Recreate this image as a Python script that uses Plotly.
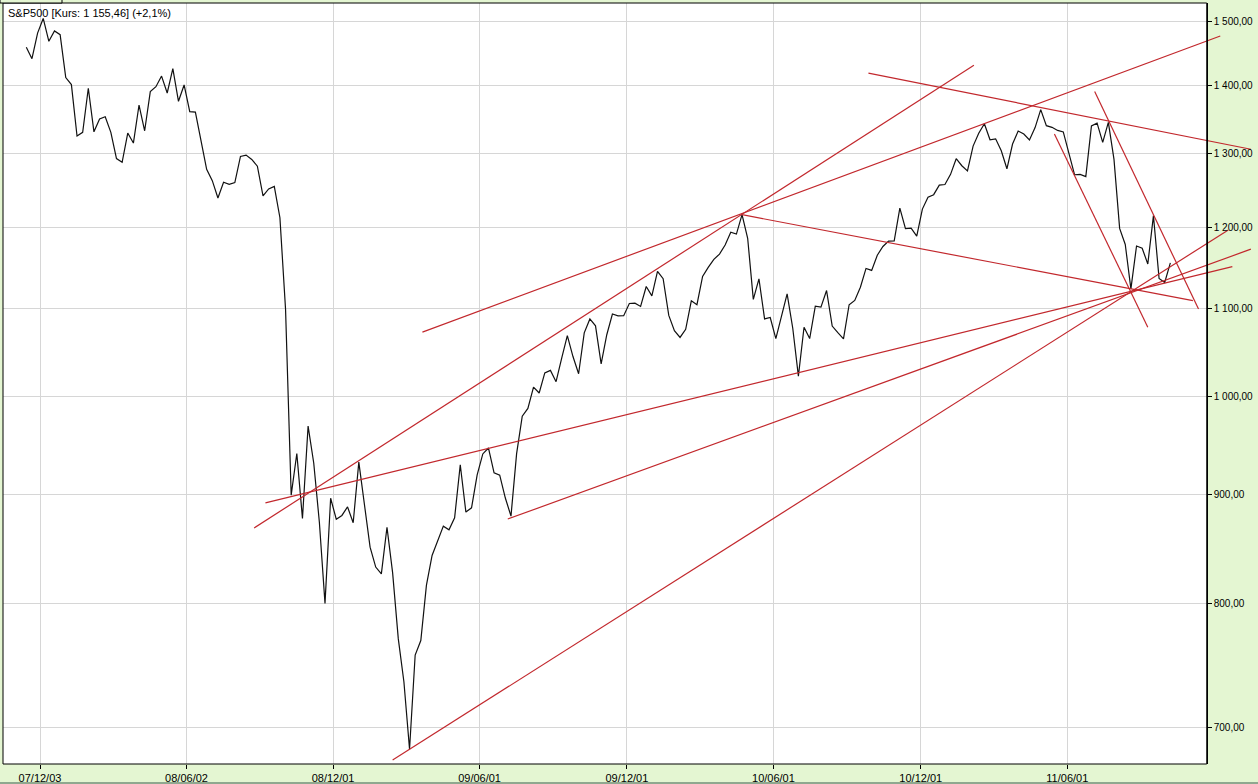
import numpy as np
import pandas as pd
import plotly.graph_objects as go

# S&P500 weekly closes, 2007-11-16 .. 2011-10-07
close = [
    1458.7, 1440.7, 1481.1, 1504.7, 1468.0, 1484.5, 1478.5,
    1411.6, 1401.0, 1325.2, 1330.6, 1395.4, 1331.3, 1350.0, 1353.1, 1330.6,
    1293.4, 1288.1, 1329.5, 1315.2, 1370.4, 1332.8, 1390.3, 1397.8, 1413.9,
    1388.3, 1425.4, 1375.9, 1400.4, 1360.7, 1360.0, 1317.9, 1278.4, 1262.9,
    1239.5, 1260.7, 1257.8, 1260.3, 1296.3, 1298.2, 1292.2, 1282.8, 1242.3,
    1251.7, 1255.1, 1213.3, 1099.2, 899.2, 940.6, 876.8, 968.8, 931.0,
    873.3, 800.0, 896.2, 876.1, 879.7, 887.9, 872.8,
    931.8, 890.4, 850.1, 832.0, 825.9, 868.6, 826.8, 770.1, 735.1,
    683.4, 756.6, 768.5, 815.9, 842.5, 856.6, 869.6, 866.2, 877.5,
    929.2, 882.9, 887.0, 919.1, 940.1, 946.2, 921.2, 918.9, 896.4,
    879.1, 940.4, 979.3, 987.5, 1010.5, 1004.1, 1026.1, 1028.9, 1016.4,
    1042.7, 1068.3, 1044.4, 1025.2, 1071.5, 1087.7, 1079.6, 1036.2, 1069.3,
    1093.5, 1091.4, 1091.5, 1106.0, 1106.4, 1102.5, 1126.5, 1115.1,
    1145.0, 1136.0, 1091.8, 1073.9, 1066.2, 1075.5, 1109.2, 1104.5, 1138.7,
    1150.0, 1159.9, 1166.6, 1178.1, 1194.4, 1192.1, 1217.3, 1186.7, 1110.9,
    1135.7, 1087.7, 1089.4, 1064.9, 1091.6, 1117.5, 1076.8, 1022.6, 1078.0,
    1064.9, 1102.7, 1101.6, 1121.6, 1079.3, 1071.7, 1064.6, 1104.5, 1109.6,
    1125.6, 1148.7, 1146.2, 1165.2, 1176.2, 1183.1, 1183.3, 1225.9, 1199.2,
    1199.7, 1189.4, 1224.7, 1240.4, 1243.9, 1256.8, 1257.6,
    1271.5, 1293.2, 1283.4, 1276.3, 1310.9, 1329.2, 1343.0, 1319.9, 1321.2,
    1304.3, 1279.2, 1313.8, 1332.4, 1328.2, 1319.7, 1337.4, 1363.6, 1340.2,
    1337.8, 1333.3, 1331.1, 1300.2, 1271.0, 1271.5, 1268.5, 1339.7, 1343.8,
    1316.1, 1345.0, 1292.3, 1199.4, 1178.8, 1123.5, 1176.8, 1174.0, 1154.2,
    1216.0, 1136.4, 1131.4, 1155.5,
]
dates = pd.date_range(end="2011-10-07", periods=len(close), freq="W-FRI")

# trend lines (start / end points)
trend_x0 = ["2008-08-25", "2009-03-22", "2010-09-27", "2010-04-23", "2008-09-08",
            "2009-07-06", "2009-02-13", "2011-05-16", "2011-07-05"]
trend_y0 = [867.9, 1072.3, 1418.3, 1217.3, 891.7, 876.3, 675.5, 1328.3, 1390.4]
trend_x1 = ["2011-02-05", "2011-12-08", "2012-01-15", "2011-11-04", "2011-12-23",
            "2012-01-15", "2011-12-18", "2011-09-09", "2011-11-11"]
trend_y1 = [1430.6, 1476.5, 1306.5, 1109.5, 1151.0, 1172.8, 1197.4, 1078.1, 1099.3]

x_tick_dates = ["2007-12-03", "2008-06-02", "2008-12-01", "2009-06-01",
                "2009-12-01", "2010-06-01", "2010-12-01", "2011-06-01"]
x_tick_labels = ["07/12/03", "08/06/02", "08/12/01", "09/06/01",
                 "09/12/01", "10/06/01", "10/12/01", "11/06/01"]
y_tick_vals = [700, 800, 900, 1000, 1100, 1200, 1300, 1400, 1500]
y_tick_labels = ["700,00", "800,00", "900,00", "1 000,00", "1 100,00",
                 "1 200,00", "1 300,00", "1 400,00", "1 500,00"]

GREEN = "#E4F6D2"
RED = "#C2282D"
GRID = "#D6D6D6"

x_range = [pd.Timestamp("2007-10-18 01:00"), pd.Timestamp("2012-01-23 21:00")]
y_range = [672.6, 1530]
axis_edge = pd.Timestamp("2011-11-21 05:00")
edge_pos = (axis_edge - x_range[0]) / (x_range[1] - x_range[0])

fig = go.Figure()

# green panel right of the price axis (below the lines, above the grid)
far = pd.Timestamp("2012-03-01")
fig.add_trace(go.Scatter(
    x=[axis_edge, far, far, axis_edge], y=[600, 600, 1700, 1700],
    mode="lines", fill="toself", fillcolor=GREEN, line=dict(width=0),
    hoverinfo="skip", showlegend=False,
))

fig.add_trace(go.Scatter(
    x=dates, y=close, mode="lines",
    line=dict(color="#111111", width=1.2),
    hoverinfo="x+y", showlegend=False,
))

for i in range(len(trend_x0)):
    fig.add_trace(go.Scatter(
        x=[trend_x0[i], trend_x1[i]], y=[trend_y0[i], trend_y1[i]],
        mode="lines", line=dict(color=RED, width=1.2),
        hoverinfo="skip", showlegend=False,
    ))

fig.update_layout(
    width=1258, height=784,
    margin=dict(l=3, r=0, t=3, b=20),
    paper_bgcolor=GREEN, plot_bgcolor="white",
    font=dict(family="Liberation Sans, Arial, sans-serif", size=10, color="black"),
    xaxis=dict(
        type="date", range=x_range,
        tickvals=x_tick_dates, ticktext=x_tick_labels,
        showgrid=True, gridcolor=GRID, gridwidth=1,
        ticks="outside", ticklen=4, tickcolor="black",
        showline=False, zeroline=False,
        tickfont=dict(family="Liberation Sans Narrow, Arial Narrow, Liberation Sans", size=11),
    ),
    yaxis=dict(
        type="log", range=[np.log10(y_range[0]), np.log10(y_range[1])],
        tickvals=y_tick_vals, ticktext=y_tick_labels,
        side="right", anchor="free", position=edge_pos,
        showgrid=True, gridcolor=GRID, gridwidth=1,
        ticks="outside", ticklen=4, tickcolor="black",
        showline=True, linecolor="black", linewidth=1,
        zeroline=False,
        tickfont=dict(size=10),
    ),
    shapes=[
        # chart frame
        dict(type="rect", xref="paper", yref="paper",
             x0=0, x1=edge_pos, y0=0, y1=1,
             line=dict(color="black", width=1), layer="above"),
        # small tab on top-left
        dict(type="rect", xref="paper", yref="paper",
             x0=-3 / 1255, x1=59 / 1255, y0=1, y1=1 + 4 / 761,
             line=dict(color="black", width=1), fillcolor=GREEN, layer="above"),
        # bottom strip
        dict(type="rect", xref="paper", yref="paper",
             x0=-0.01, x1=1.01, y0=-20 / 761, y1=-18 / 761,
             line=dict(width=0), fillcolor="#8FA88F", layer="above"),
    ],
    annotations=[
        dict(text="S&P500 [Kurs: 1 155,46] (+2,1%)",
             xref="paper", yref="paper", x=3 / 1255, y=1 - 9.5 / 761,
             xanchor="left", yanchor="middle", showarrow=False,
             font=dict(size=11, color="black")),
    ],
)

# page without the default body margin so the chart sits at the window corner
fig.write_html("out.html", config={"displayModeBar": False},
               post_script="document.body.style.margin='0';")
